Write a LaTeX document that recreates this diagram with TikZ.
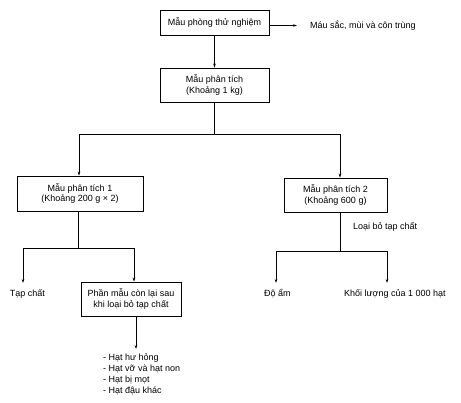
\documentclass[tikz,border=0pt]{standalone}
\usepackage{fontspec}
\setmainfont{Liberation Sans}
\usetikzlibrary{arrows.meta}
\begin{document}
\begin{tikzpicture}[x=1pt,y=-1pt,
  font=\fontsize{9}{10.8}\selectfont,
  box/.style={draw, line width=0.7pt, inner sep=0pt, align=center},
  conn/.style={line width=0.7pt},
  arr/.style={line width=0.7pt, -{Stealth[length=4pt,width=2.6pt]}},
  lbl/.style={inner sep=0pt}]
\useasboundingbox (0,0) rectangle (461,403);
% boxes
\node[box, minimum width=109pt, minimum height=25pt] (b1) at (214.5,22.5) {Mẫu phòng thử nghiệm};
\node[box, minimum width=109pt, minimum height=34pt] (b2) at (214.5,85) {Mẫu phân tích\\(Khoảng 1 kg)};
\node[box, minimum width=126pt, minimum height=35pt] (b3) at (80,193.5) {Mẫu phân tích 1\\(Khoảng 200 g × 2)};
\node[box, minimum width=103pt, minimum height=34pt] (b4) at (335.5,195) {Mẫu phân tích 2\\(Khoảng 600 g)};
\node[box, minimum width=100pt, minimum height=34pt] (b5) at (131,299) {Phần mẫu còn lại sau\\khi loại bỏ tạp chất};
% labels
\node[lbl, anchor=west] (color) at (310,25.5) {Máu sắc, mùi và côn trùng};
\node[lbl] (tap) at (27.5,294) {Tạp chất};
\node[lbl] (doam) at (277.5,294) {Độ ẩm};
\node[lbl, anchor=west] (khoi) at (344,294) {Khối lượng của 1 000 hạt};
\node[lbl, anchor=west] (loai) at (353,227) {Loại bỏ tạp chất};
\node[lbl, anchor=north west, align=left] (list) at (103,354) {- Hạt hư hỏng\\- Hạt vỡ và hạt non\\- Hạt bị mọt\\- Hạt đậu khác};
% junction coordinates
\coordinate (jL) at (79,134);
\coordinate (jR) at (340,134);
\coordinate (k0) at (78,248);
\coordinate (kL) at (23,248);
\coordinate (kR) at (134,248);
\coordinate (m0) at (340,251);
\coordinate (mL) at (276,251);
\coordinate (mR) at (387,251);
\coordinate (colEnd) at (297,25.5);
\coordinate (tapEnd) at (23,283);
\coordinate (doEnd) at (276,283);
\coordinate (khEnd) at (387,283);
\coordinate (listEnd) at (136,349);
% connectors
\draw[arr] (b1.east |- colEnd) -- (colEnd);
\draw[arr] (b1) -- (b2);
\draw[conn] (b2.south) -- (b2.south |- jL);
\draw[conn] (jL) -- (jR);
\draw[arr] (jL) -- (jL |- b3.north);
\draw[arr] (jR) -- (jR |- b4.north);
\draw[conn] (k0 |- b3.south) -- (k0);
\draw[conn] (kL) -- (kR);
\draw[arr] (kL) -- (tapEnd);
\draw[arr] (kR) -- (kR |- b5.north);
\draw[arr] (listEnd |- b5.south) -- (listEnd);
\draw[conn] (m0 |- b4.south) -- (m0);
\draw[conn] (mL) -- (mR);
\draw[arr] (mL) -- (doEnd);
\draw[arr] (mR) -- (khEnd);
\end{tikzpicture}
\end{document}
